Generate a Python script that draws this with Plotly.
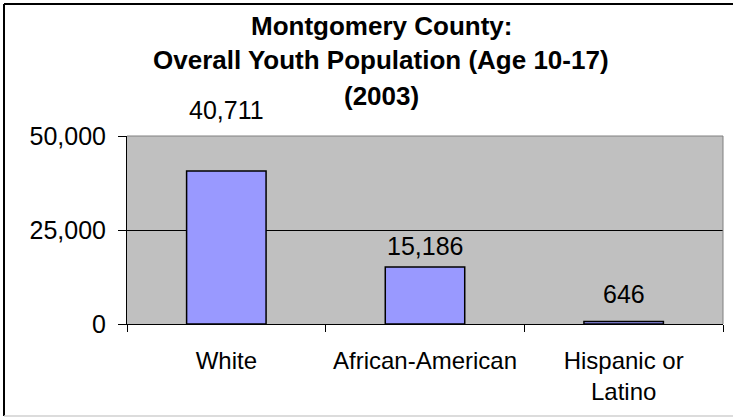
import plotly.graph_objects as go

categories = ["White", "African-American", "Hispanic or<br>Latino"]
values = [40711, 15186, 646]
value_labels = ["40,711", "15,186", "646"]
y_tick_vals = [0, 25000, 50000]
title_lines = ["Montgomery County:", "Overall Youth Population (Age 10-17)", "(2003)"]

FONT = "Liberation Sans, Arial, sans-serif"
W, H = 733, 417
L, R, T, B = 127, 10, 136, 93
pw, ph = W - L - R, H - T - B

def px_x(x):
    return (x - L) / pw

def px_y(y):
    return (H - B - y) / ph

fig = go.Figure(go.Bar(
    x=categories, y=values,
    marker=dict(color="#9999FF", line=dict(color="black", width=1.5)),
    width=0.4, hoverinfo="skip",
))

annotations = []
# Title lines
for line, yc in zip(title_lines, [26, 60, 96]):
    annotations.append(dict(
        text="<b>" + line + "</b>", xref="paper", yref="paper",
        x=px_x(381), y=px_y(yc), xanchor="center", yanchor="middle",
        showarrow=False, font=dict(family=FONT, size=26, color="black"),
    ))
# Data labels
for cat, val, lab, shift in zip(categories, values, value_labels, [61, 21, 28]):
    annotations.append(dict(
        text=lab, x=cat, y=val, xref="x", yref="y",
        xanchor="center", yanchor="middle", yshift=shift,
        showarrow=False, font=dict(family=FONT, size=25, color="black"),
    ))

shapes = [
    # plot-area top and right edges (gray)
    dict(type="line", xref="paper", yref="paper", x0=0, x1=1, y0=1, y1=1,
         line=dict(color="#808080", width=1), layer="above"),
    dict(type="line", xref="paper", yref="paper", x0=1, x1=1, y0=0, y1=1,
         line=dict(color="#808080", width=1), layer="above"),
    # outer chart border
    dict(type="line", xref="paper", yref="paper", x0=px_x(4), x1=px_x(740), y0=px_y(4), y1=px_y(4),
         line=dict(color="black", width=2), layer="above"),
    dict(type="line", xref="paper", yref="paper", x0=px_x(4), x1=px_x(4), y0=px_y(4), y1=px_y(416),
         line=dict(color="black", width=2), layer="above"),
    dict(type="line", xref="paper", yref="paper", x0=px_x(4), x1=px_x(740), y0=px_y(416), y1=px_y(416),
         line=dict(color="#D0D0D0", width=1.5), layer="above"),
]

fig.update_layout(
    width=W, height=H, autosize=False,
    margin=dict(l=L, r=R, t=T, b=B, pad=0, autoexpand=False),
    paper_bgcolor="white", plot_bgcolor="#C0C0C0",
    showlegend=False, bargap=0.6,
    annotations=annotations, shapes=shapes,
    font=dict(family=FONT, size=25, color="black"),
)
fig.update_xaxes(
    type="category", showgrid=False, showline=True, linecolor="black", linewidth=1,
    ticks="outside", tickson="boundaries", ticklen=7, tickcolor="black", tickwidth=1,
    tickangle=0, automargin=False,
    tickfont=dict(family=FONT, size=24, color="black"), ticklabelstandoff=15,
)
fig.update_yaxes(
    range=[0, 50000], tickvals=y_tick_vals, tickformat=",",
    showgrid=True, gridcolor="black", gridwidth=1, zeroline=False,
    showline=True, linecolor="black", linewidth=1, automargin=False,
    ticks="outside", ticklen=8, tickcolor="black", tickwidth=1,
    tickfont=dict(family=FONT, size=25, color="black"), ticklabelstandoff=7,
)

fig.write_html("out.html", config={"displayModeBar": False},
               post_script="document.body.style.margin='0';")
